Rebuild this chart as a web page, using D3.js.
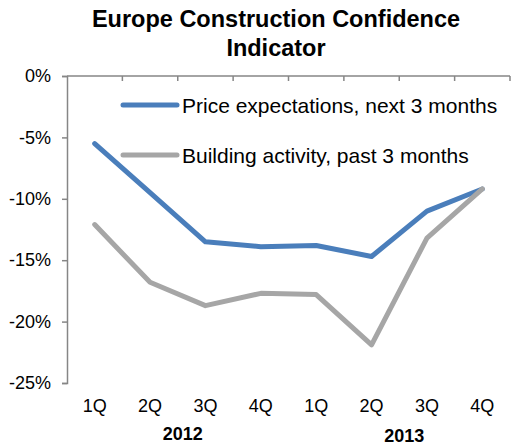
<!DOCTYPE html>
<html>
<head>
<style>
    body { margin: 0; background: #fff; }
    svg text { font-family: "Liberation Sans", Arial, sans-serif; fill: #000; }
</style>
</head>
<body>
<svg id="chart" width="512" height="446"></svg>
<script src="https://cdnjs.cloudflare.com/ajax/libs/d3/7.8.5/d3.min.js"></script>
<script>
    // quarters and years along the bottom
    const quarters = ["1Q", "2Q", "3Q", "4Q", "1Q", "2Q", "3Q", "4Q"];
    const years = ["2012", "2013"];
    // values in percent
    const priceExpectations = [-5.5, -9.5, -13.5, -13.9, -13.8, -14.7, -11.0, -9.2];
    const buildingActivity = [-12.1, -16.8, -18.7, -17.7, -17.8, -21.9, -13.2, -9.2];
    const yTicks = [0, -5, -10, -15, -20, -25];

    const series = [
        { name: "Price expectations, next 3 months", values: priceExpectations, color: "#4a7ebb" },
        { name: "Building activity, past 3 months", values: buildingActivity, color: "#a6a6a6" }
    ];

    const svg = d3.select("#chart");
    const axisColor = "#868686";

    const x = d3.scaleBand()
        .domain(d3.range(quarters.length))
        .range([67, 510]);

    const y = d3.scaleLinear()
        .domain([-25, 0])
        .range([383, 76]);

    // title
    const title = svg.append("text")
        .attr("text-anchor", "middle")
        .style("font-weight", "bold")
        .style("font-size", "23.5px");
    title.append("tspan").attr("x", 276).attr("y", 27).text("Europe Construction Confidence");
    title.append("tspan").attr("x", 276).attr("y", 56).text("Indicator");

    // y axis
    const yAxis = svg.append("g")
        .attr("transform", `translate(${x.range()[0]},0)`)
        .call(d3.axisLeft(y).tickValues(yTicks).tickSize(5).tickPadding(11).tickFormat(d => d + "%"));
    yAxis.select(".domain").attr("stroke", axisColor).attr("stroke-width", 1.5);
    yAxis.selectAll(".tick line").attr("stroke", axisColor).attr("stroke-width", 1.5);
    yAxis.selectAll(".tick text")
        .style("font-size", "18px")
        .style("font-family", "Liberation Sans, Arial, sans-serif")
        .attr("fill", "#000");

    // category axis sits at 0%, ticks between categories pointing down
    const zeroY = y(0);
    svg.append("line")
        .attr("x1", x.range()[0]).attr("x2", x.range()[1])
        .attr("y1", zeroY).attr("y2", zeroY)
        .attr("stroke", axisColor).attr("stroke-width", 1.5);
    const bounds = d3.range(quarters.length + 1).map(i => x.range()[0] + i * x.step());
    svg.selectAll("line.xtick")
        .data(bounds.slice(1))
        .enter().append("line")
        .attr("class", "xtick")
        .attr("x1", d => d).attr("x2", d => d)
        .attr("y1", zeroY).attr("y2", zeroY + 5)
        .attr("stroke", axisColor).attr("stroke-width", 1.5);

    // quarter labels under the plot
    svg.selectAll("text.quarter")
        .data(quarters)
        .enter().append("text")
        .attr("class", "quarter")
        .attr("x", (d, i) => x(i) + x.bandwidth() / 2)
        .attr("y", 412)
        .attr("text-anchor", "middle")
        .style("font-size", "18px")
        .text(d => d);

    // year labels, each under its four quarters
    svg.selectAll("text.year")
        .data(years)
        .enter().append("text")
        .attr("class", "year")
        .attr("x", (d, i) => x(i * 4 + 2) + 5)
        .attr("y", (d, i) => 440 + i * 1.5)
        .attr("text-anchor", "middle")
        .style("font-size", "18px")
        .style("font-weight", "bold")
        .text(d => d);

    // lines
    const line = d3.line()
        .x((d, i) => x(i) + x.bandwidth() / 2)
        .y(d => y(d));

    svg.selectAll("path.series")
        .data(series)
        .enter().append("path")
        .attr("class", "series")
        .attr("d", d => line(d.values))
        .attr("fill", "none")
        .attr("stroke", d => d.color)
        .attr("stroke-width", 5)
        .attr("stroke-linejoin", "round")
        .attr("stroke-linecap", "round");

    // legend
    const legend = svg.selectAll("g.legend")
        .data(series)
        .enter().append("g")
        .attr("class", "legend")
        .attr("transform", (d, i) => `translate(123,${105 + i * 50})`);
    legend.append("line")
        .attr("x1", 0).attr("x2", 54)
        .attr("stroke", d => d.color)
        .attr("stroke-width", 5)
        .attr("stroke-linecap", "round");
    legend.append("text")
        .attr("x", 59)
        .attr("y", 8)
        .style("font-size", "21px")
        .text(d => d.name);
</script>
</body>
</html>
